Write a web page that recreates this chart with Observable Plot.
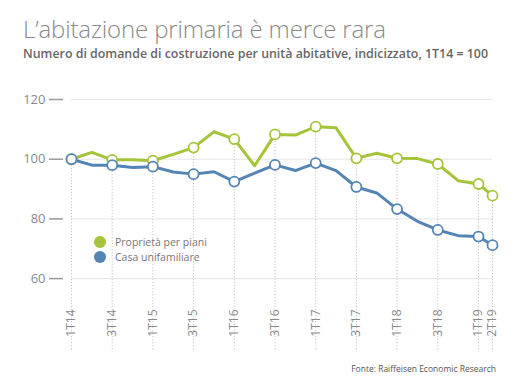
<!DOCTYPE html>
<html>
<head>
<meta charset="utf-8">
<script src="https://cdn.jsdelivr.net/npm/d3@7"></script>
<script src="https://cdn.jsdelivr.net/npm/@observablehq/plot@0.6"></script>
<style>
  html, body { margin: 0; padding: 0; background: #fff; }
  body { width: 520px; height: 384px; position: relative; overflow: hidden; font-family: "Open Sans", sans-serif; }
  #header { position: absolute; left: 0; top: 0; width: 520px; height: 70px; }
  #title { position: absolute; left: 23px; top: 16px; height: 26px; line-height: 26px; font-family: "Open Sans", sans-serif; font-weight: 300; font-size: 24px; color: #8a8a8a; white-space: nowrap; letter-spacing: -0.15px; }
  #subtitle { position: absolute; left: 23px; top: 47px; height: 14px; line-height: 14px; font-family: "Open Sans", sans-serif; font-weight: 600; font-size: 12.4px; color: #666; white-space: nowrap; }
  #chart { position: absolute; left: 0; top: 70px; }
  #legend { position: absolute; left: 94px; top: 234px; font-family: "Open Sans", sans-serif; font-size: 10.5px; color: #777; }
  .item { display: flex; align-items: center; height: 15px; }
  .sw { width: 12px; height: 12px; border-radius: 50%; margin-right: 9px; }
  #caption { position: absolute; right: 24px; top: 363px; font-family: "Open Sans", sans-serif; font-size: 8.5px; color: #555; }
</style>
</head>
<body>
<div id="header">
  <div id="title">L’abitazione primaria è merce rara</div>
  <div id="subtitle">Numero di domande di costruzione per unità abitative, indicizzato, 1T14 = 100</div>
</div>
<div id="chart"></div>
<div id="legend"></div>
<div id="caption">Fonte: Raiffeisen Economic Research</div>
<script>
// Quarters (index = position on the time axis)
const quarters = ["1T14","2T14","3T14","4T14","1T15","2T15","3T15","4T15","1T16","2T16","3T16","4T16",
                  "1T17","2T17","3T17","4T17","1T18","2T18","3T18","4T18","1T19","2T19"];
// Labelled quarters (tick labels shown on the axis)
const tickLabels = ["1T14","3T14","1T15","3T15","1T16","3T16","1T17","3T17","1T18","3T18","1T19","2T19"];
const seriesNames = ["Proprietà per piani","Casa unifamiliare"];
const seriesColors = ["#a6c43a","#5484b6"];
// Index values (1T14 = 100)
const proprieta = [100, 102.3, 99.8, 99.8, 99.5, 101.6, 103.9, 109.2, 106.7, 97.8, 108.3, 108.1,
                   110.9, 110.5, 100.3, 102.0, 100.3, 100.2, 98.4, 92.8, 91.7, 87.8];
const casa      = [100, 98.0, 98.0, 97.2, 97.5, 95.7, 95.0, 95.8, 92.5, 95.3, 98.1, 96.2,
                   98.7, 96.2, 90.7, 88.7, 83.3, 79.2, 76.3, 74.4, 74.1, 71.2];
const yTicks = [60, 80, 100, 120];

const rows = [];
quarters.forEach((q, i) => {
  rows.push({i, q, s: seriesNames[0], v: proprieta[i]});
  rows.push({i, q, s: seriesNames[1], v: casa[i]});
});
const tickIdx = tickLabels.map(l => quarters.indexOf(l));
const markedRows = rows.filter(d => tickIdx.includes(d.i));
const tops = tickIdx.map(i => ({i, top: Math.max(proprieta[i], casa[i])}));
const lastTick = tickIdx[tickIdx.length - 2];

const chart = Plot.plot({
  width: 520,
  height: 280,
  marginLeft: 71,
  marginRight: 28,
  marginTop: 29,
  marginBottom: 48,
  style: {fontFamily: "Open Sans, sans-serif", color: "#888", background: "transparent"},
  x: {type: "linear", domain: [0, lastTick, quarters.length - 1], range: [71, 478, 492], label: null},
  y: {domain: [52, 120], label: null},
  color: {domain: seriesNames, range: seriesColors},
  marks: [
    Plot.ruleY(yTicks, {stroke: "#e4e4e4", strokeWidth: 1}),
    Plot.ruleX(tops, {x: "i", y1: "top", stroke: "#b8b8b8", strokeDasharray: "1,2", strokeWidth: 1}),
    Plot.axisY(yTicks, {tickSize: 14, tickPadding: 4, dx: -8, stroke: "#9a9a9a", strokeWidth: 1.5, fontSize: 13, fill: "#8a8a8a", label: null}),
    Plot.axisX(tickIdx, {tickSize: 0, tickPadding: 7, tickRotate: -90, tickFormat: i => quarters[i], fontSize: 12, fill: "#8a8a8a", label: null}),
    Plot.line(rows, {x: "i", y: "v", z: "s", stroke: "s", strokeWidth: 3, strokeLinejoin: "round"}),
    Plot.dot(markedRows, {x: "i", y: "v", stroke: "s", fill: "white", r: 5, strokeWidth: 1.8})
  ]
});
document.getElementById("chart").appendChild(chart);

const legend = document.getElementById("legend");
seriesNames.forEach((n, k) => {
  const it = document.createElement("div");
  it.className = "item";
  const sw = document.createElement("span");
  sw.className = "sw";
  sw.style.background = seriesColors[k];
  const tx = document.createElement("span");
  tx.textContent = n;
  it.appendChild(sw); it.appendChild(tx);
  legend.appendChild(it);
});
</script>
</body>
</html>
